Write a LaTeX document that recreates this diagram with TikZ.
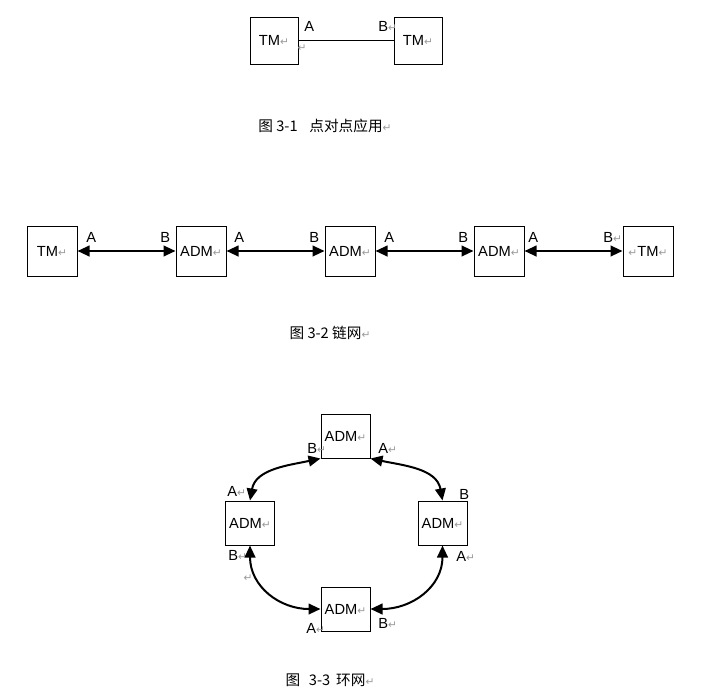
\documentclass[tikz,border=0pt]{standalone}
\usepackage{fontspec}
\setmainfont{Liberation Sans}
\newfontfamily\cjk{Noto Sans CJK SC}
\newfontfamily\markfont{DejaVu Sans}
\usetikzlibrary{arrows.meta, positioning}
\newcommand\pmk{{\markfont\fontsize{8}{9}\selectfont\textcolor{gray!80}{↵}}}

\begin{document}
\begin{tikzpicture}[x=0.75pt, y=-0.75pt, font=\fontsize{11}{13}\selectfont,
  box/.style={draw, line width=0.75pt, minimum width=37.5pt, minimum height=37.5pt, inner sep=0pt},
  ringbox/.style={box, minimum width=36.75pt, minimum height=33pt},
  lbl/.style={anchor=west, inner sep=0pt},
  dbl/.style={<->, >={Triangle[length=9pt, width=8pt]}, line width=1.5pt},
  caption/.style={font=\cjk\fontsize{11}{13}\selectfont}]
  \useasboundingbox (0,0) rectangle (705,696);

  % punto a punto
  \node[box, minimum width=36pt, minimum height=35.25pt] (p1) at (274,40.5) {TM\pmk};
  \node[box, minimum width=36pt, minimum height=35.25pt] (p2) at (418,40.5) {TM\pmk};
  \draw[line width=0.75pt] (p1) -- (p2);
  \node[lbl] (pa) at (304,26) {A};
  \node[lbl] (pb) at (378,26) {B\pmk};
  \node (pm) at (302,48) {\pmk};
  \node[caption] (cap1) at (325,126) {图\ 3-1\hspace{0.8em}点对点应用\pmk};

  % cadena
  \node[box] (c1) at (52,251) {TM\pmk};
  \node[box, right=73.5pt of c1] (c2) {ADM\pmk};
  \node[box, right=73.5pt of c2] (c3) {ADM\pmk};
  \node[box, right=73.5pt of c3] (c4) {ADM\pmk};
  \node[box, right=73.5pt of c4] (c5) {\pmk TM\pmk};
  \foreach \i/\j in {1/2, 2/3, 3/4, 4/5}
    \draw[dbl] (c\i) -- (c\j);
  \foreach \n/\x/\t in {a1/86/A, b1/160/B, a2/234/A, b2/309/B, a3/384/A, b3/458/B, a4/528/A, b4/603/B\pmk}
    \node[lbl] (\n) at (\x,237) {\t};
  \node[caption] (cap2) at (330,333) {图 3-2\ 链网\pmk};

  % anillo
  \node[ringbox] (r1) at (345.5,436) {ADM\pmk};
  \node[ringbox] (r2) at (250,523) {ADM\pmk};
  \node[ringbox] (r3) at (442.5,523) {ADM\pmk};
  \node[ringbox] (r4) at (345.5,609) {ADM\pmk};
  \draw[dbl] (r2.north) to[out=80, in=192] (r1.south west);
  \draw[dbl] (r3.north) to[out=100, in=-12] (r1.south east);
  \draw[dbl] (r2.south) to[out=-90, in=180, looseness=1.1] (r4.west);
  \draw[dbl] (r3.south) to[out=-90, in=0, looseness=1.1] (r4.east);
  \node[lbl] (rb1) at (307,448) {B\pmk};
  \node[lbl] (ra1) at (378,448) {A\pmk};
  \node[lbl] (ra2) at (227,491) {A\pmk};
  \node[lbl] (rb3) at (459,494) {B};
  \node[lbl] (rb2) at (228,555) {B\pmk};
  \node[lbl] (ra3) at (456,556) {A\pmk};
  \node[lbl] (ra4) at (306,628) {A\pmk};
  \node[lbl] (rb4) at (378,623) {B\pmk};
  \node (rm) at (248,578) {\pmk};
  \node[caption] (cap3) at (330,680) {图\hspace{0.6em}3-3\hspace{0.4em}环网\pmk};
\end{tikzpicture}
\end{document}
